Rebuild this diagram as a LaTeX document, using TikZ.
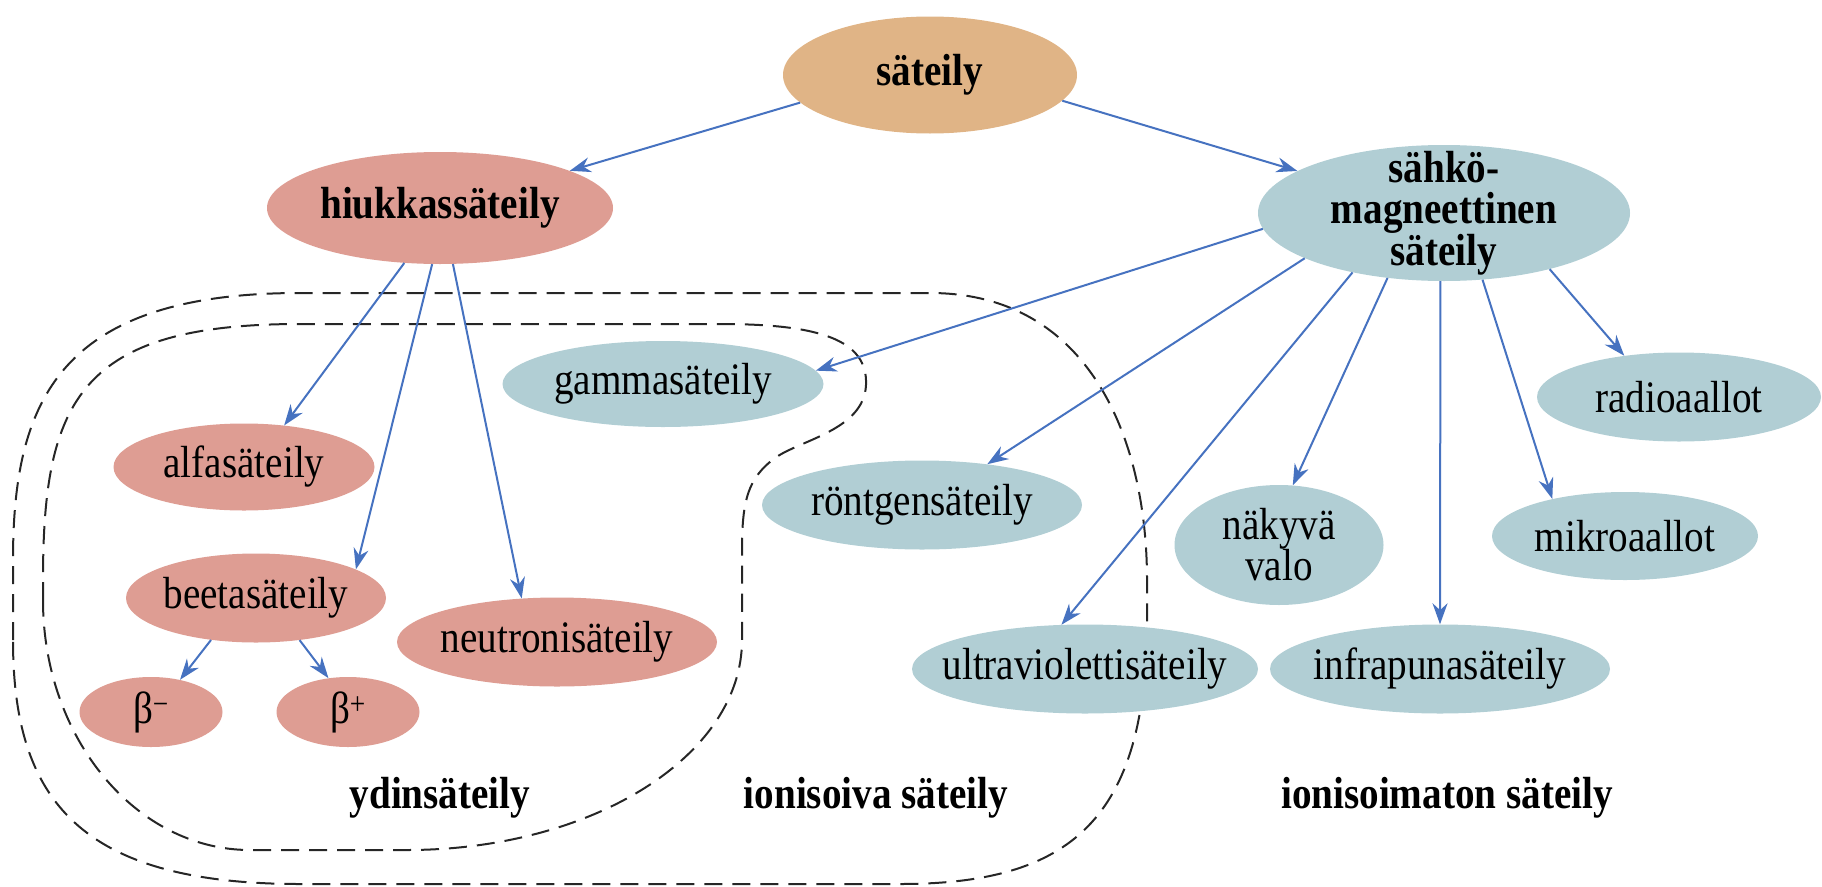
\documentclass[tikz,border=0pt]{standalone}
\usepackage{fontspec}
\setmainfont{Liberation Serif}[FakeStretch=0.87]
\usetikzlibrary{arrows.meta,shapes.geometric}
\definecolor{tanorange}{RGB}{224,180,134}
\definecolor{salmon}{RGB}{222,157,147}
\definecolor{paleblue}{RGB}{177,206,212}
\definecolor{arrowblue}{RGB}{70,114,192}
\tikzstyle{blob}=[ellipse,inner sep=-40pt,align=center,font=\fontsize{45}{41}\selectfont]
\tikzstyle{boldtext}=[font=\fontsize{45}{41}\selectfont\bfseries]
\tikzstyle{topblob}=[blob,boldtext,fill=tanorange]
\tikzstyle{particle}=[blob,fill=salmon]
\tikzstyle{wave}=[blob,fill=paleblue]
\tikzstyle{arrowline}=[draw,arrowblue,line width=2pt,-{Stealth[length=21pt,width=15pt]}]
\tikzstyle{region}=[draw,black!85,line width=2pt,dash pattern=on 18pt off 10pt]
\tikzstyle{grouplabel}=[anchor=base,boldtext]

\begin{document}
\begin{tikzpicture}[x=1pt,y=-1pt]
    \useasboundingbox (0,0) rectangle (1822,886);
    % First the two dashed regions, so that the nodes cover them
    % ionisoiva
    \path[region] (13,640) -- (13,560) .. controls (13,400) and (60,293) .. (300,293)
        -- (930,293) .. controls (1090,293) and (1147,440) .. (1147,580)
        -- (1147,620) .. controls (1147,820) and (1070,884) .. (900,884)
        -- (300,884) .. controls (80,884) and (13,800) .. (13,640) -- cycle;
    % ydinsäteily
    \path[region] (43,600) -- (43,580) .. controls (43,400) and (80,324) .. (300,324)
        -- (720,324) .. controls (820,324) and (868,340) .. (866,385)
        .. controls (864,430) and (800,440) .. (775,458)
        .. controls (748,478) and (742,500) .. (742,550)
        -- (742,640) .. controls (742,756) and (592,850) .. (407,850)
        -- (250,850) .. controls (136,850) and (43,738) .. (43,600) -- cycle;

    % Then the nodes
    \node[topblob, minimum width=294pt, minimum height=117pt] (sateily) at (930,75) {säteily};
    \node[particle, boldtext, minimum width=346pt, minimum height=112pt] (hiukkas) at (440,208) {hiukkassäteily};
    \node[wave, boldtext, minimum width=372pt, minimum height=136pt] (sahko) at (1444,213) {sähkö-\\magneettinen\\säteily};

    \foreach \pos/\name/\w/\h/\txt in {{(244,467)/alfa/261/87/alfasäteily}, {(256,598)/beeta/260/89/beetasäteily},
        {(557,642)/neutroni/320/89/neutronisäteily}, {(151,712)/bminus/143/70/β\textsuperscript{−}},
        {(348,712)/bplus/143/70/β\textsuperscript{+}}}
        \node[particle, minimum width=\w pt, minimum height=\h pt] (\name) at \pos {\txt};

    \foreach \pos/\name/\w/\h/\txt in {{(663,384)/gamma/321/86/gammasäteily}, {(922,505)/rontgen/320/89/röntgensäteily},
        {(1085,669)/ultra/346/89/ultraviolettisäteily}, {(1279,545)/nakyva/209/120/näkyvä\\valo},
        {(1440,669)/infra/340/89/infrapunasäteily}, {(1625,536)/mikro/266/88/mikroaallot},
        {(1679,397)/radio/284/89/radioaallot}}
        \node[wave, minimum width=\w pt, minimum height=\h pt] (\name) at \pos {\txt};

    \node[grouplabel] (ydin) at (440,808) {ydinsäteily};
    \node[grouplabel] (ionis) at (876,808) {ionisoiva säteily};
    \node[grouplabel] (nonionis) at (1447,808) {ionisoimaton säteily};

    % Connect the nodes with arrows
    \foreach \source/\dest in {sateily.192/hiukkas.16, sateily.349/sahko.164,
        hiukkas.237/alfa.46, hiukkas.262/beeta.16, hiukkas.283/neutroni.129,
        beeta.223/bminus.48, beeta.316/bplus.120,
        sahko.185/gamma.5, sahko.198/rontgen.32, sahko.213/ultra.118, sahko.229/nakyva.77,
        sahko.267/infra.north, sahko.300/mikro.153, sahko.332/radio.143}
        \path[arrowline] (\source) -- (\dest);
\end{tikzpicture}
\end{document}
